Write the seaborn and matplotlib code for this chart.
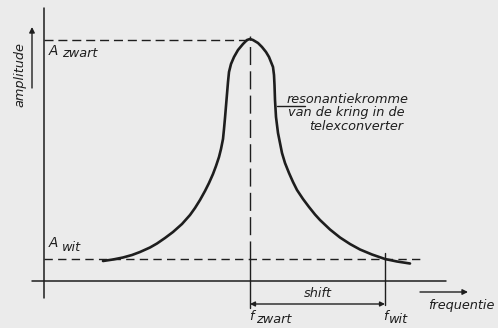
import matplotlib
matplotlib.use("Agg")
import matplotlib.pyplot as plt
import seaborn as sns
import pandas as pd

# Resonance curve of the tuned circuit (frequency, amplitude in drawing units)
freq = [59, 69, 79, 88, 96, 106, 113, 121, 129, 138, 146, 151, 156, 161,
        165, 169, 172, 175, 177, 179, 180, 181, 182, 183, 184, 185, 187,
        190, 194, 199, 203, 206, 209, 214, 218, 222, 225, 227, 229, 230,
        230.5, 231, 232, 234, 236, 238, 241, 245, 249, 253, 259, 265, 271,
        276, 286, 296, 306, 316, 328, 341, 353, 366]
ampl = [20, 21.5, 23.5, 26, 29, 33.5, 37.5, 43, 49, 57, 66, 73, 81, 90,
        98, 107, 115, 124, 132, 142, 152, 163, 175, 187, 199, 209, 217,
        224, 231, 237, 241, 242, 241, 238, 234, 229, 224, 219, 214, 206,
        196, 181, 164, 148, 138, 128, 118, 108, 99, 91, 82, 74, 66.5,
        61, 51.5, 43.5, 37, 31.5, 26.5, 22, 19.5, 17.5]

# Marked levels and frequencies
a_zwart = 242
a_wit = 22
f_zwart = 206
f_wit = 341

curve = pd.DataFrame({"frequentie": freq, "amplitude": ampl})

sns.set_style("white")
plt.rcParams["font.family"] = ["DejaVu Sans"]
plt.rcParams["font.style"] = "italic"

ink = "#1e1e1e"
paper = "#ebebeb"
fs = 9.3

fig = plt.figure(figsize=(4.98, 3.28), dpi=100, facecolor=paper)
ax = fig.add_axes([0, 0, 1, 1])
ax.set_facecolor(paper)
ax.set_xlim(-44, 454)
ax.set_ylim(-47, 281)
ax.axis("off")

# axes of the diagram
ax.plot([0, 0], [-17, 273], color=ink, lw=1.1)
ax.plot([-12, 402], [0, 0], color=ink, lw=1.1)

# resonance curve
sns.lineplot(data=curve, x="frequentie", y="amplitude", ax=ax, color=ink,
             lw=1.9, sort=False, estimator=None)

# reference levels
ax.plot([0, f_zwart], [a_zwart - 1, a_zwart - 1], color=ink, lw=1.0,
        dashes=(6.5, 3.5))
ax.plot([0, 376], [a_wit, a_wit], color=ink, lw=1.0, dashes=(6, 3.8))

# frequency markers
ax.plot([f_zwart, f_zwart], [a_wit, 245], color=ink, lw=1.0,
        dashes=(13, 4.5))
ax.plot([f_zwart, f_zwart], [-27, a_wit], color=ink, lw=1.0)
ax.plot([f_wit, f_wit], [-24, 28], color=ink, lw=1.0)

# shift span
ax.annotate("", xy=(f_zwart, -23), xytext=(f_wit, -23),
            arrowprops=dict(arrowstyle="<|-|>", color=ink, lw=1.0,
                            mutation_scale=7, shrinkA=0, shrinkB=0))
ax.text((f_zwart + f_wit) / 2, -19, "shift", ha="center", va="bottom",
        fontsize=fs, color=ink)

# axis direction arrows
ax.annotate("", xy=(424, -11), xytext=(376, -11),
            arrowprops=dict(arrowstyle="-|>", color=ink, lw=1.0,
                            mutation_scale=8, shrinkA=0, shrinkB=0))
ax.annotate("", xy=(-12, 254), xytext=(-12, 193),
            arrowprops=dict(arrowstyle="-|>", color=ink, lw=1.0,
                            mutation_scale=8, shrinkA=0, shrinkB=0))

ax.text(417, -28, "frequentie", ha="center", va="baseline", fontsize=fs,
        color=ink)
ax.text(-24, 206, "amplitude", ha="center", va="center", rotation=90,
        fontsize=fs, color=ink)

# level labels
ax.text(5, 226, "A", ha="left", va="baseline", fontsize=9.8, color=ink)
ax.text(18, 224, "zwart", ha="left", va="baseline", fontsize=fs, color=ink)
ax.text(5, 34, "A", ha="left", va="baseline", fontsize=9.8, color=ink)
ax.text(18, 30, "wit", ha="left", va="baseline", fontsize=fs, color=ink)

# frequency labels
ax.text(f_zwart - 1, -39, "f", ha="left", va="baseline", fontsize=fs,
        color=ink)
ax.text(f_zwart + 6, -42, "zwart", ha="left", va="baseline", fontsize=fs,
        color=ink)
ax.text(f_wit - 2, -39, "f", ha="left", va="baseline", fontsize=fs,
        color=ink)
ax.text(f_wit + 4, -42, "wit", ha="left", va="baseline", fontsize=fs,
        color=ink)

# curve annotation with leader
ax.plot([233, 261], [175, 175], color=ink, lw=1.0)
ax.text(364, 178, "resonantiekromme", ha="right", va="baseline",
        fontsize=fs, color=ink)
ax.text(360, 165, "van de kring in de", ha="right", va="baseline",
        fontsize=fs, color=ink)
ax.text(359, 151, "telexconverter", ha="right", va="baseline",
        fontsize=fs, color=ink)

fig.savefig("out.png", dpi=100, facecolor=paper)
